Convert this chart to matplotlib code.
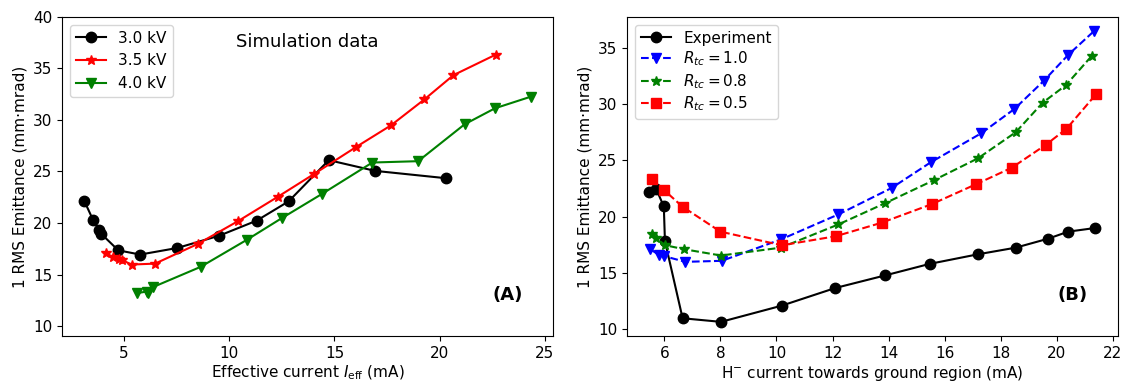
import matplotlib
matplotlib.use("Agg")
import matplotlib.pyplot as plt

# (A) simulation data
i30 = [3.1, 3.52, 3.82, 3.9, 4.72, 5.76, 7.53, 9.52, 11.3, 12.82, 14.73, 16.93, 20.29]
e30 = [22.16, 20.3, 19.35, 18.97, 17.35, 16.94, 17.58, 18.77, 20.23, 22.1, 26.1, 25.06, 24.35]
i35 = [4.13, 4.45, 4.76, 4.92, 5.35, 6.47, 8.5, 10.42, 12.31, 14.04, 16.04, 17.69, 19.28, 20.66, 22.68]
e35 = [17.1, 16.7, 16.5, 16.39, 15.97, 16.06, 17.97, 20.19, 22.55, 24.77, 27.39, 29.48, 32.0, 34.35, 36.35]
i40 = [5.63, 6.07, 6.14, 6.39, 8.63, 10.85, 12.5, 14.42, 16.8, 18.98, 21.19, 22.63, 24.34]
e40 = [13.2, 13.35, 13.2, 13.8, 15.74, 18.39, 20.48, 22.84, 25.87, 26.0, 29.58, 31.13, 32.26]

# (B) experiment vs simulation
i_exp = [5.46, 5.7, 5.98, 6.02, 6.65, 8.02, 10.19, 12.09, 13.87, 15.47, 17.19, 18.54, 19.7, 20.41, 21.36]
e_exp = [22.19, 22.49, 20.9, 17.83, 10.97, 10.65, 12.09, 13.65, 14.77, 15.8, 16.65, 17.24, 18.04, 18.66, 18.98]
i_r10 = [5.5, 5.8, 6.0, 6.75, 8.05, 10.17, 12.21, 14.11, 15.5, 17.31, 18.49, 19.53, 20.42, 21.32]
e_r10 = [17.1, 16.6, 16.48, 15.98, 16.07, 17.98, 20.19, 22.54, 24.81, 27.4, 29.55, 32.03, 34.38, 36.44]
i_r08 = [5.56, 5.7, 6.04, 6.7, 8.02, 10.16, 12.21, 13.88, 15.61, 17.19, 18.54, 19.5, 20.33, 21.26]
e_r08 = [18.48, 18.07, 17.45, 17.1, 16.54, 17.24, 19.3, 21.19, 23.22, 25.17, 27.49, 30.11, 31.67, 34.29]
i_r05 = [5.56, 5.98, 6.65, 8.0, 10.19, 12.11, 13.75, 15.54, 17.12, 18.4, 19.61, 20.35, 21.4]
e_r05 = [23.34, 22.37, 20.87, 18.66, 17.45, 18.25, 19.45, 21.1, 22.87, 24.34, 26.37, 27.79, 30.85]

plt.rcParams['font.size'] = 11

fig, (ax1, ax2) = plt.subplots(1, 2, figsize=(11.25, 3.84), dpi=100)
fig.subplots_adjust(left=0.055, right=0.994, bottom=0.124, top=0.956, wspace=0.15)

ax1.plot(i30, e30, 'o-', color='black', lw=1.5, ms=7.5, label='3.0 kV')
ax1.plot(i35, e35, '*-', color='red', lw=1.5, ms=7.5, label='3.5 kV')
ax1.plot(i40, e40, 'v-', color='green', lw=1.5, ms=7.5, label='4.0 kV')
ax1.set_ylim(9, 40)
ax1.set_xlabel(r'Effective current $I_{\rm eff}$ (mA)', labelpad=2)
ax1.set_ylabel('1 RMS Emittance (mm·mrad)')
ax1.legend(loc='upper left')
ax1.text(0.5, 0.92, 'Simulation data', transform=ax1.transAxes, ha='center', va='center', fontsize=13)
ax1.text(0.908, 0.13, '(A)', transform=ax1.transAxes, ha='center', va='center', fontsize=13, fontweight='bold')

ax2.plot(i_exp, e_exp, 'o-', color='black', lw=1.5, ms=7.5, label='Experiment')
ax2.plot(i_r10, e_r10, 'v--', color='blue', lw=1.5, ms=7.5, label=r'$R_{tc}=1.0$')
ax2.plot(i_r08, e_r08, '*--', color='green', lw=1.5, ms=7.5, label=r'$R_{tc}=0.8$')
ax2.plot(i_r05, e_r05, 's--', color='red', lw=1.5, ms=7.5, label=r'$R_{tc}=0.5$')
ax2.set_xticks(range(6, 23, 2))
ax2.set_xlabel(r'H$^{-}$ current towards ground region (mA)', labelpad=2)
ax2.set_ylabel('1 RMS Emittance (mm·mrad)')
ax2.legend(loc='upper left', labelspacing=0.25)
ax2.text(0.908, 0.13, '(B)', transform=ax2.transAxes, ha='center', va='center', fontsize=13, fontweight='bold')

fig.savefig('out.png')
